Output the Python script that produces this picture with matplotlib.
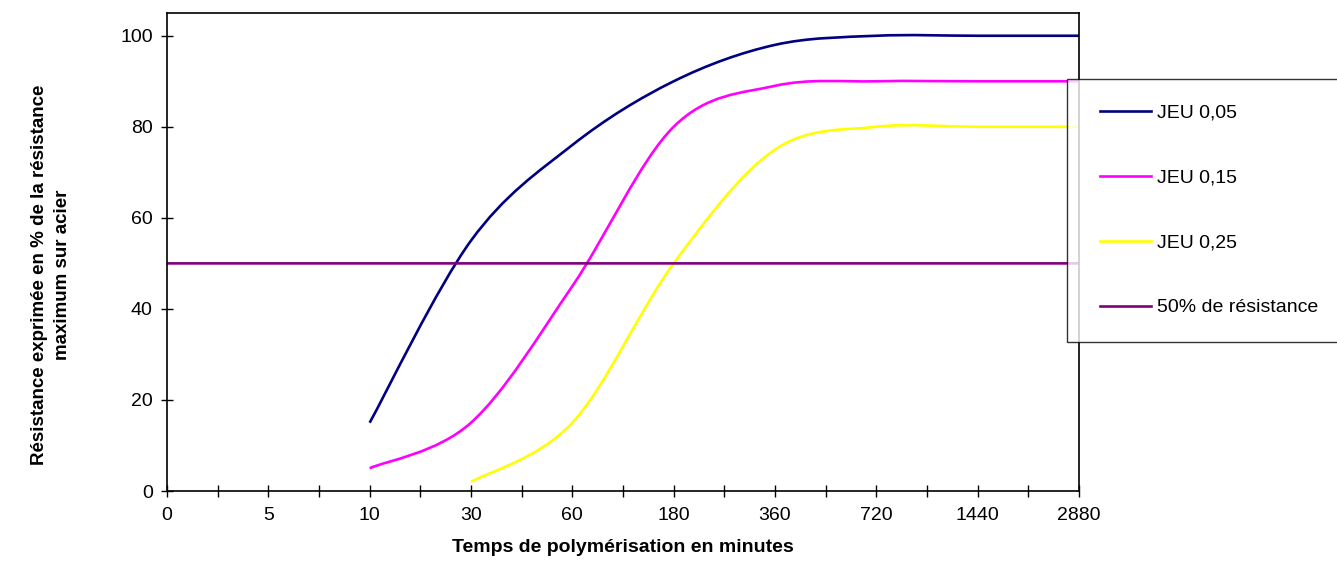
import numpy as np
import matplotlib
matplotlib.use("Agg")
import matplotlib.pyplot as plt
from matplotlib.path import Path
from matplotlib.patches import PathPatch
from matplotlib.lines import Line2D
from matplotlib.legend_handler import HandlerLine2D

plt.rcParams["font.family"] = ["Liberation Sans", "DejaVu Sans"]

# =========================
# DATA
# =========================
x_labels = ["0", "5", "10", "30", "60", "180", "360", "720", "1440", "2880"]

# category index -> value (None = no point)
jeu_005 = [None, None, 15, 55, 76, 90, 98, 100, 100, 100]
jeu_015 = [None, None, 5, 15, 45, 80, 89, 90, 90, 90]
jeu_025 = [None, None, None, 2, 15, 50, 75, 80, 80, 80]
seuil_50 = [50, 50, 50, 50, 50, 50, 50, 50, 50, 50]

series = [
    ("JEU 0,05", jeu_005, "#000080"),
    ("JEU 0,15", jeu_015, "#FF00FF"),
    ("JEU 0,25", jeu_025, "#FFFF00"),
    ("50% de résistance", seuil_50, "#800080"),
]


# ======================================================
# HELPER: Excel-like smoothed line (Catmull-Rom Bezier)
# ======================================================
def smooth_path(xs, ys):
    pts = np.column_stack([xs, ys]).astype(float)
    n = len(pts)
    verts = [pts[0]]
    codes = [Path.MOVETO]
    for i in range(n - 1):
        p0 = pts[i - 1] if i > 0 else pts[i]
        p1 = pts[i]
        p2 = pts[i + 1]
        p3 = pts[i + 2] if i + 2 < n else pts[i + 1]
        c1 = p1 + (p2 - p0) / 6.0
        c2 = p2 - (p3 - p1) / 6.0
        verts += [c1, c2, p2]
        codes += [Path.CURVE4] * 3
    return Path(verts, codes)


fig = plt.figure(figsize=(13.37, 5.86), dpi=100)
ax = fig.add_axes([167 / 1337, 1 - 491 / 586, (1079 - 167) / 1337, (491 - 13) / 586])

handles = []
for name, vals, color in series:
    xs = [i for i, v in enumerate(vals) if v is not None]
    ys = [v for v in vals if v is not None]
    patch = PathPatch(smooth_path(xs, ys), facecolor="none", edgecolor=color,
                      linewidth=1.9, capstyle="butt")
    ax.add_patch(patch)
    handles.append(Line2D([], [], color=color, linewidth=1.9, label=name))

ax.set_xlim(0, len(x_labels) - 1)
ax.set_ylim(0, 105)
ax.set_xticks(np.arange(len(x_labels)))
ax.set_xticklabels(x_labels)
ax.set_xticks(np.arange(0.5, len(x_labels) - 1, 1.0), minor=True)
ax.set_yticks([0, 20, 40, 60, 80, 100])

ax.tick_params(axis="both", which="both", direction="inout", length=8.5,
               width=1, labelsize=14, colors="black")
ax.tick_params(axis="x", which="major", pad=7)
ax.tick_params(axis="y", which="major", pad=6)
for s in ax.spines.values():
    s.set_linewidth(1.2)

fig.text(623 / 1337, 1 - 548 / 586, "Temps de polymérisation en minutes",
         ha="center", va="center", fontsize=14, fontweight="bold")
fig.text(51 / 1337, 1 - 275 / 586,
         "Résistance exprimée en % de la résistance\nmaximum sur acier",
         ha="center", va="center", rotation=90, fontsize=13.5,
         fontweight="bold", linespacing=1.45)

leg = fig.legend(handles=handles, loc="upper left",
                 bbox_to_anchor=(1067 / 1337, 1 - 79 / 586),
                 fontsize=14, frameon=True, fancybox=False,
                 borderpad=1.3, labelspacing=2.43, handlelength=3.0,
                 handletextpad=0.35, borderaxespad=0,
                 handler_map={Line2D: HandlerLine2D(xpad=0.4)})
leg.get_frame().set_edgecolor("black")
leg.get_frame().set_linewidth(1.0)

fig.savefig("out.png", dpi=100)
